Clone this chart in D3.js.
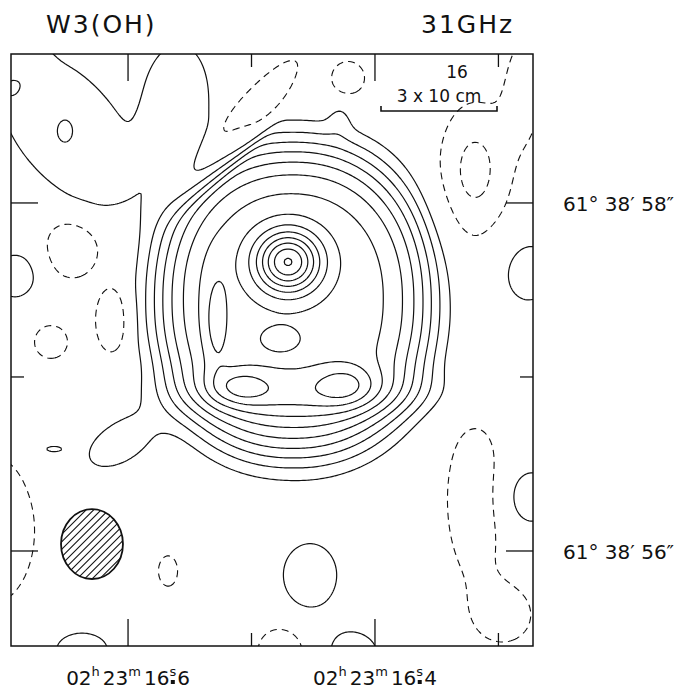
<!DOCTYPE html>
<html>
<head>
<meta charset="utf-8">
<script src="https://cdn.jsdelivr.net/npm/d3@7"></script>
<style>
body { margin: 0; background: #fff; }
text { font-family: "DejaVu Sans", sans-serif; fill: #111; }
</style>
</head>
<body>
<svg id="map"></svg>
<script>
var W = 683, H = 691;
var frame = {left: 11, right: 533, top: 54, bottom: 646};

// sky extent of the box (RA in seconds of time, Dec in arcsec)
var raRange = [16.6948, 16.2720];
var decRange = [55.454, 58.856];
var raTicks = [16.6, 16.5, 16.4, 16.3];
var raLabels = [16.6, 16.4];
var decTicks = [56, 57, 58];
var decLabels = [56, 58];

var posLevels = [1, 2, 3, 4, 5, 6, 7, 8, 9, 10, 11, 12, 13, 14];
var negLevels = [-1, -2];

// emission components:
// position, peak, size ("), angle (deg), profile exponent, norm exponent
var compRa    = [16.4664, 16.4704, 16.4704, 16.5287, 16.4526, 16.5093, 16.4243, 16.4769, 16.4283,
                 16.6454, 16.6130, 16.6624, 16.7118, 16.5676, 16.4761, 16.5093, 16.4218,
                 16.3190, 16.2785, 16.3190, 16.2947,
                 16.6486, 16.6916, 16.6972, 16.6511, 16.2760, 16.2760, 16.4526, 16.4162, 16.6373, 16.6916,
                 16.6065, 16.5620, 16.6608];
var compDec   = [57.442, 57.661, 57.661, 57.316, 56.908, 56.942, 56.954, 57.218, 58.488,
                 57.735, 57.327, 57.201, 56.120, 55.885, 55.419, 58.431, 58.718,
                 58.189, 58.678, 56.293, 55.632,
                 58.419, 58.822, 58.638, 58.413, 57.603, 56.310, 55.862, 55.402, 55.431, 57.580,
                 56.620, 58.563, 56.586];
var compPeak  = [7.5, 6.0, 0.6, 1.2, 1.3, 1.6, 1.5, 1.0, 0.8,
                 -1.5, -1.5, -1.5, -1.5, -1.5, -1.9, -2.0, -1.5,
                 -2.3, -1.6, -2.1, -1.6,
                 1.6, 0.6, 0.6, 0.8, 1.8, 1.8, 1.5, 1.6, 1.6, 1.8,
                 1.6, 1.8, 1.3];
var compSx    = [0.720, 0.126, 0.200, 0.050, 0.65, 0.115, 0.115, 0.090, 0.05,
                 0.16, 0.10, 0.10, 0.27, 0.058, 0.127, 0.46, 0.10,
                 0.16, 0.09, 0.13, 0.15,
                 0.52, 0.17, 0.05, 0.037, 0.12, 0.13, 0.17, 0.13, 0.15, 0.10,
                 0.20, 0.333, 0.05];
var compSy    = [0.820, 0.120, 0.200, 0.200, 0.10, 0.070, 0.080, 0.055, 0.07,
                 0.175, 0.20, 0.10, 0.45, 0.092, 0.138, 0.10, 0.10,
                 0.30, 0.25, 0.35, 0.15,
                 0.29, 0.17, 0.05, 0.054, 0.15, 0.14, 0.20, 0.12, 0.10, 0.11,
                 0.11, 0.184, 0.018];
var compAngle = [0, 0, 0, 0, 0, 0, 0, 0, 0,
                 0, 0, 0, 0, 0, 0, 130, 0,
                 0, 0, 0, 0,
                 50, 0, 0, 0, 0, 0, 0, 0, 0, 0,
                 -30, 95, 0];
var compShape = [6, 2, 2, 2, 2, 2, 2, 2, 2,
                 4, 4, 4, 4, 4, 4, 4, 4,
                 2, 2, 2, 2,
                 4, 4, 2, 2, 2, 2, 2, 2, 2, 2,
                 2, 4, 2];
var compNorm  = [2.2, 2, 2, 2, 2, 2, 2, 2, 2,
                 2, 2, 2, 2, 2, 2, 2, 2,
                 2, 2, 2, 2,
                 2, 2, 2, 2, 2, 2, 2, 2, 2, 2,
                 2, 2, 2];

// synthesized beam
var beamRa = 16.6292, beamDec = 56.040, beamSize = [0.356, 0.402];

var svg = d3.select('#map').attr('width', W).attr('height', H);

var x = d3.scaleLinear().domain(raRange).range([frame.left, frame.right]);
var y = d3.scaleLinear().domain(decRange).range([frame.bottom, frame.top]);
var pxPerArcsec = (frame.bottom - frame.top) / (decRange[1] - decRange[0]);

// sample the map on a grid
var step = 2, pad = 4;
var gx0 = frame.left - pad, gy0 = frame.top - pad;
var nx = Math.ceil((frame.right - frame.left + 2 * pad) / step) + 1;
var ny = Math.ceil((frame.bottom - frame.top + 2 * pad) / step) + 1;
var comps = compRa.map(function(r, i) {
    var a = compAngle[i] * Math.PI / 180;
    return {cx: x(r), cy: y(compDec[i]), peak: compPeak[i],
            sx: compSx[i] * pxPerArcsec, sy: compSy[i] * pxPerArcsec,
            c: Math.cos(a), s: Math.sin(a), p: compShape[i], m: compNorm[i]};
});
var values = new Float64Array(nx * ny);
for (var j = 0; j < ny; j++) {
    for (var i = 0; i < nx; i++) {
        var px = gx0 + i * step, py = gy0 + j * step, v = 0;
        comps.forEach(function(c) {
            var dx = px - c.cx, dy = py - c.cy;
            var u = Math.abs((dx * c.c + dy * c.s) / c.sx);
            var w = Math.abs((-dx * c.s + dy * c.c) / c.sy);
            var r = Math.pow(Math.pow(u, c.m) + Math.pow(w, c.m), 1 / c.m);
            v += c.peak * Math.exp(-0.5 * Math.pow(r, c.p));
        });
        values[j * nx + i] = v;
    }
}

var proj = d3.geoTransform({
    point: function(gx, gy) { this.stream.point(gx0 + (gx - 0.5) * step, gy0 + (gy - 0.5) * step); }
});
var path = d3.geoPath(proj);

svg.append('clipPath').attr('id', 'box')
    .append('rect')
    .attr('x', frame.left).attr('y', frame.top)
    .attr('width', frame.right - frame.left).attr('height', frame.bottom - frame.top);

var g = svg.append('g').attr('clip-path', 'url(#box)');

var pos = d3.contours().size([nx, ny]).thresholds(posLevels)(values);
g.selectAll('path.pos')
    .data(pos)
    .enter()
    .append('path')
    .attr('class', 'pos')
    .attr('d', path)
    .attr('fill', 'none')
    .attr('stroke', '#111')
    .attr('stroke-width', 1.2)
    .attr('stroke-linejoin', 'round');

var neg = d3.contours().size([nx, ny])
    .thresholds(negLevels.map(function(l) { return -l; }))(values.map(function(v) { return -v; }));
g.selectAll('path.neg')
    .data(neg)
    .enter()
    .append('path')
    .attr('class', 'neg')
    .attr('d', path)
    .attr('fill', 'none')
    .attr('stroke', '#111')
    .attr('stroke-width', 1.1)
    .attr('stroke-dasharray', '7,5');

// beam with hatching
var bx = x(beamRa), by = y(beamDec);
var brx = beamSize[0] * pxPerArcsec / 2, bry = beamSize[1] * pxPerArcsec / 2;
svg.append('clipPath').attr('id', 'beamclip')
    .append('ellipse').attr('cx', bx).attr('cy', by).attr('rx', brx).attr('ry', bry);
var hatch = d3.range(-70, 71, 7.5);
svg.append('g').attr('clip-path', 'url(#beamclip)')
    .selectAll('line')
    .data(hatch)
    .enter()
    .append('line')
    .attr('x1', function(d) { return bx + d - 60; })
    .attr('y1', by + 60)
    .attr('x2', function(d) { return bx + d + 60; })
    .attr('y2', by - 60)
    .attr('stroke', '#111')
    .attr('stroke-width', 1.1);
svg.append('ellipse')
    .attr('cx', bx).attr('cy', by).attr('rx', brx).attr('ry', bry)
    .attr('fill', 'none').attr('stroke', '#111').attr('stroke-width', 1.8);

// frame and ticks
svg.append('rect')
    .attr('x', frame.left).attr('y', frame.top)
    .attr('width', frame.right - frame.left).attr('height', frame.bottom - frame.top)
    .attr('fill', 'none').attr('stroke', '#111').attr('stroke-width', 1.5);

function tickLen(d, labelled) { return labelled.indexOf(d) >= 0 ? 27 : 13; }
var ticks = svg.append('g').attr('stroke', '#111').attr('stroke-width', 1.3);
raTicks.forEach(function(d) {
    var L = tickLen(d, raLabels);
    ticks.append('line').attr('x1', x(d)).attr('x2', x(d)).attr('y1', frame.top).attr('y2', frame.top + L);
    ticks.append('line').attr('x1', x(d)).attr('x2', x(d)).attr('y1', frame.bottom).attr('y2', frame.bottom - L);
});
decTicks.forEach(function(d) {
    var L = tickLen(d, decLabels);
    ticks.append('line').attr('y1', y(d)).attr('y2', y(d)).attr('x1', frame.left).attr('x2', frame.left + L);
    ticks.append('line').attr('y1', y(d)).attr('y2', y(d)).attr('x1', frame.right).attr('x2', frame.right - L);
});

// RA labels, the decimal point sits under the "s"
raLabels.forEach(function(d) {
    var frac = d.toFixed(1).split('.');
    var t = svg.append('text')
        .attr('x', x(d)).attr('y', 685)
        .attr('text-anchor', 'middle')
        .attr('font-size', 20);
    t.append('tspan').text('02');
    t.append('tspan').attr('font-size', 13).attr('dy', -9).text('h');
    t.append('tspan').attr('dy', 9).attr('dx', 3).text('23');
    t.append('tspan').attr('font-size', 13).attr('dy', -9).text('m');
    t.append('tspan').attr('dy', 9).attr('dx', 3).text(frac[0]);
    t.append('tspan').attr('font-size', 13).attr('dy', -9).text('s');
    t.append('tspan').attr('dy', 9).attr('dx', 1).text(frac[1]);
    var n = t.node();
    var k = n.textContent.indexOf('s');
    var p0 = n.getStartPositionOfChar(k), p1 = n.getEndPositionOfChar(k);
    svg.append('rect')
        .attr('x', (p0.x + p1.x) / 2 - 2).attr('y', 680)
        .attr('width', 4).attr('height', 4).attr('fill', '#111');
});

// Dec labels
decLabels.forEach(function(d) {
    svg.append('text')
        .attr('x', 563).attr('y', y(d) + 8)
        .attr('font-size', 20)
        .text('61\u00b0 38\u2032 ' + d + '\u2033');
});

// titles
svg.append('text').attr('x', 46).attr('y', 33).attr('font-size', 25)
    .attr('letter-spacing', 2).text('W3(OH)');
svg.append('text').attr('x', 421).attr('y', 33).attr('font-size', 25)
    .attr('letter-spacing', 2).text('31GHz');

// linear scale bar
var barLen = 116, barX = 381, barY = 111;
svg.append('path')
    .attr('d', 'M' + barX + ',' + (barY - 5) + 'V' + barY + 'H' + (barX + barLen) + 'V' + (barY - 5))
    .attr('fill', 'none').attr('stroke', '#111').attr('stroke-width', 1.6);
svg.append('text').attr('x', barX + barLen / 2).attr('y', 102).attr('text-anchor', 'middle')
    .attr('font-size', 17).text('3 x 10  cm');
svg.append('text').attr('x', 457).attr('y', 78).attr('text-anchor', 'middle')
    .attr('font-size', 17).text('16');
</script>
</body>
</html>
